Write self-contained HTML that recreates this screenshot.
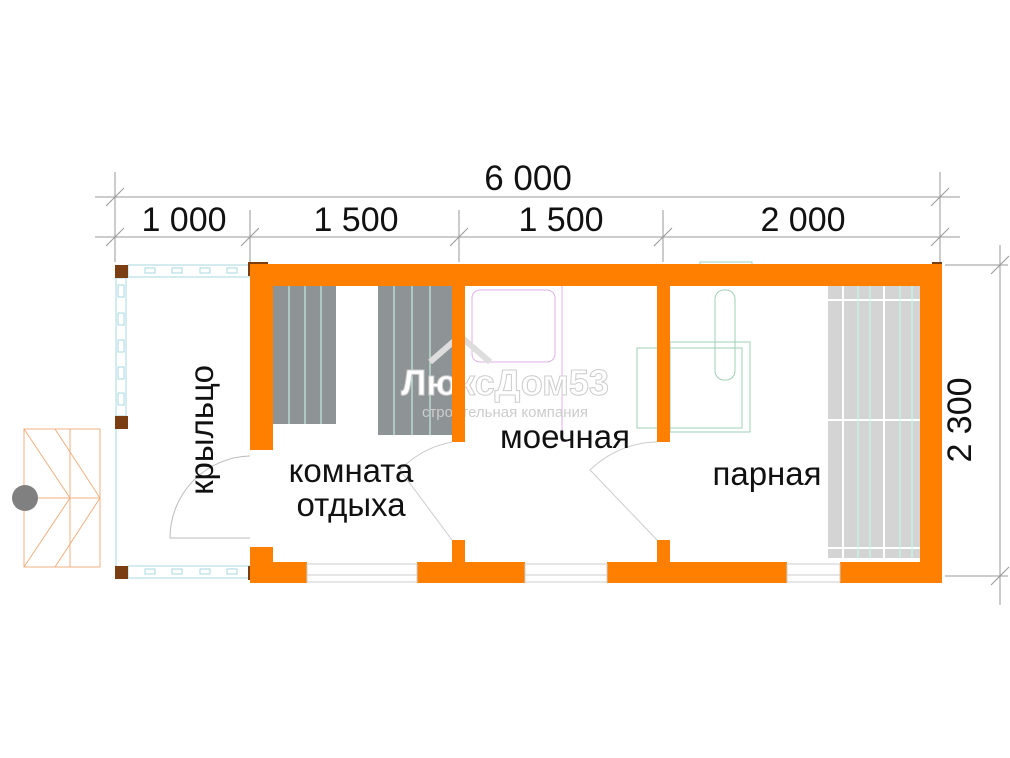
<!DOCTYPE html>
<html><head><meta charset="utf-8"><style>
html,body{margin:0;padding:0;background:#fff}
svg{display:block}
text{font-family:"Liberation Sans",sans-serif;fill:#111}
</style></head><body>
<svg width="1010" height="758" viewBox="0 0 1010 758" xmlns="http://www.w3.org/2000/svg">
<g stroke="#999" stroke-width="1" fill="none">
<line x1="95" y1="197" x2="960" y2="197"/>
<line x1="95" y1="237" x2="960" y2="237"/>
<line x1="115" y1="172" x2="115" y2="262"/>
<line x1="250" y1="210" x2="250" y2="262"/>
<line x1="459" y1="210" x2="459" y2="262"/>
<line x1="663" y1="210" x2="663" y2="262"/>
<line x1="940" y1="172" x2="940" y2="262"/>
<line x1="106" y1="206" x2="124" y2="188"/><line x1="106" y1="246" x2="124" y2="228"/>
<line x1="241" y1="246" x2="259" y2="228"/><line x1="450" y1="246" x2="468" y2="228"/>
<line x1="654" y1="246" x2="672" y2="228"/><line x1="931" y1="206" x2="949" y2="188"/>
<line x1="931" y1="246" x2="949" y2="228"/>
<line x1="1000" y1="245" x2="1000" y2="605"/>
<line x1="945" y1="265" x2="1008" y2="265"/>
<line x1="945" y1="576" x2="1008" y2="576"/>
<line x1="991" y1="274" x2="1009" y2="256"/><line x1="991" y1="585" x2="1009" y2="567"/>
</g>
<text x="528" y="190" font-size="35" text-anchor="middle">6 000</text>
<text x="184" y="231" font-size="34" text-anchor="middle">1 000</text>
<text x="356" y="231" font-size="34" text-anchor="middle">1 500</text>
<text x="561" y="231" font-size="34" text-anchor="middle">1 500</text>
<text x="803" y="231" font-size="34" text-anchor="middle">2 000</text>
<text transform="translate(971,420) rotate(-90)" font-size="34" text-anchor="middle">2 300</text>

<g stroke="#aad8e0" stroke-width="1" fill="none">
<rect x="128" y="265" width="122" height="12"/>
<rect x="128" y="566" width="122" height="12"/>
<rect x="116" y="278" width="10" height="138"/>
<line x1="116" y1="428" x2="116" y2="567"/>
</g>
<g stroke="#aad8e0" fill="none">
<rect x="145" y="268" width="10" height="5"/><rect x="172" y="268" width="10" height="5"/><rect x="200" y="268" width="10" height="5"/><rect x="227" y="268" width="10" height="5"/>
<rect x="145" y="569" width="10" height="5"/><rect x="172" y="569" width="10" height="5"/><rect x="200" y="569" width="10" height="5"/><rect x="227" y="569" width="10" height="5"/>
<rect x="118" y="285" width="6" height="12"/><rect x="118" y="313" width="6" height="12"/><rect x="118" y="340" width="6" height="12"/><rect x="118" y="367" width="6" height="12"/><rect x="118" y="393" width="6" height="12"/>
</g>
<g fill="#7a3e12">
<rect x="115" y="265" width="13" height="13"/><rect x="115" y="416" width="13" height="13"/><rect x="115" y="566" width="13" height="13"/>
<rect x="248" y="262" width="20" height="14"/><rect x="248" y="566" width="20" height="14"/>
<rect x="932" y="262" width="10" height="14"/><rect x="932" y="566" width="10" height="14"/>
</g>
<g stroke="#f0b080" stroke-width="1" fill="none">
<rect x="24" y="429" width="76" height="138"/>
<line x1="70" y1="429" x2="70" y2="567"/>
<line x1="24" y1="498" x2="100" y2="498"/>
<line x1="24" y1="429" x2="70" y2="498"/><line x1="70" y1="498" x2="24" y2="567"/>
<line x1="55" y1="429" x2="100" y2="498"/><line x1="100" y1="498" x2="55" y2="567"/>
</g>
<circle cx="25" cy="498" r="13" fill="#808080"/>
<path d="M250 456 A82 82 0 0 0 170 538 L250 538" stroke="#bbb" fill="none"/>

<g fill="#8e9395">
<rect x="273" y="286" width="63" height="138"/>
<rect x="378" y="286" width="74" height="149"/>
</g>
<g stroke="#cfe" stroke-width="1">
<line x1="289" y1="286" x2="289" y2="424"/><line x1="305" y1="286" x2="305" y2="424"/><line x1="321" y1="286" x2="321" y2="424"/>
<line x1="394" y1="286" x2="394" y2="435"/><line x1="412" y1="286" x2="412" y2="435"/><line x1="430" y1="286" x2="430" y2="435"/>
</g>
<rect x="472" y="290" width="83" height="72" rx="8" stroke="#e0b0e8" fill="none"/>
<line x1="562" y1="286" x2="562" y2="442" stroke="#e0b0e8"/>
<g stroke="#a0d0b8" fill="none">
<rect x="637" y="348" width="105" height="80"/>
<rect x="670" y="342" width="80" height="90"/>
<rect x="715" y="290" width="20" height="90" rx="9"/>
<rect x="700" y="262" width="52" height="8"/>
</g>
<rect x="828" y="286" width="92" height="272" fill="#d4d4d4"/>
<g stroke="#fff" stroke-width="2">
<line x1="828" y1="300" x2="920" y2="300"/><line x1="828" y1="420" x2="920" y2="420"/><line x1="828" y1="548" x2="920" y2="548"/>
<line x1="843" y1="286" x2="843" y2="558"/><line x1="884" y1="286" x2="884" y2="558"/>
</g>
<g stroke="#bfe" stroke-width="1">
<line x1="858" y1="286" x2="858" y2="558"/><line x1="870" y1="286" x2="870" y2="558"/><line x1="900" y1="286" x2="900" y2="558"/><line x1="912" y1="286" x2="912" y2="558"/>
</g>

<path d="M430 362 L460 336 L490 362" stroke="#ddd" stroke-width="6" fill="none"/>
<text x="505" y="395" font-size="36" font-weight="bold" text-anchor="middle" style="fill:#fff;stroke:#ccc;stroke-width:1">ЛюксДом53</text>
<text x="505" y="417" font-size="15" text-anchor="middle" style="fill:#ccc">строительная компания</text>

<g fill="#ff7f00">
<rect x="250" y="264" width="692" height="22"/>
<rect x="250" y="264" width="23" height="186"/>
<rect x="250" y="547" width="23" height="36"/>
<rect x="250" y="562" width="57" height="21"/>
<rect x="417" y="562" width="108" height="21"/>
<rect x="607" y="562" width="180" height="21"/>
<rect x="840" y="562" width="102" height="21"/>
<rect x="920" y="264" width="22" height="319"/>
<rect x="452" y="264" width="13" height="178"/>
<rect x="452" y="540" width="13" height="25"/>
<rect x="657" y="264" width="13" height="178"/>
<rect x="657" y="540" width="13" height="25"/>
</g>
<g stroke="#ccc" fill="none">
<rect x="307" y="564" width="110" height="18"/><line x1="307" y1="575" x2="417" y2="575"/>
<rect x="525" y="564" width="82" height="18"/><line x1="525" y1="575" x2="607" y2="575"/>
<rect x="787" y="564" width="53" height="18"/><line x1="787" y1="575" x2="840" y2="575"/>
<path d="M452 442 A98 98 0 0 0 400 470 L452 540"/>
<path d="M657 442 A98 98 0 0 0 590 470 L657 540"/>
</g>

<text transform="translate(213,430) rotate(-90)" font-size="33" text-anchor="middle">крыльцо</text>
<text x="351" y="482" font-size="33" text-anchor="middle">комната</text>
<text x="351" y="516" font-size="33" text-anchor="middle">отдыха</text>
<text x="565" y="448" font-size="33" text-anchor="middle">моечная</text>
<text x="767" y="485" font-size="33" text-anchor="middle">парная</text>
</svg>
</body></html>
